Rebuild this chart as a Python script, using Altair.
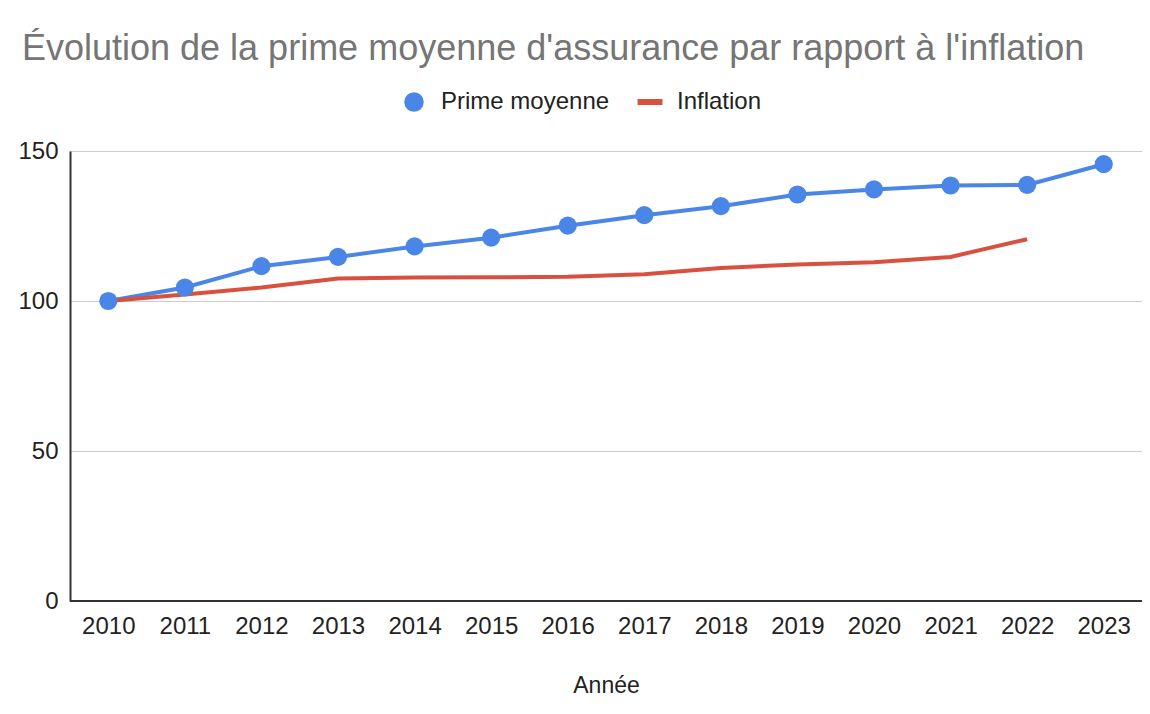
import altair as alt
import pandas as pd

years = ["2010", "2011", "2012", "2013", "2014", "2015", "2016",
         "2017", "2018", "2019", "2020", "2021", "2022", "2023"]
prime = [100.0, 104.5, 111.6, 114.7, 118.2, 121.1, 125.1,
         128.6, 131.6, 135.5, 137.2, 138.5, 138.7, 145.6]
inflation = [100.0, 102.2, 104.5, 107.5, 107.8, 107.9, 108.1,
             108.9, 111.0, 112.2, 112.9, 114.7, 120.6, None]
series = ["Prime moyenne", "Inflation"]
colors = ["#4a86e8", "#d9503f"]

rows = []
for i, y in enumerate(years):
    rows.append({"Année": y, "Série": series[0], "Valeur": prime[i]})
    rows.append({"Année": y, "Série": series[1], "Valeur": inflation[i]})
df = pd.DataFrame(rows)

FONT = "Liberation Sans"
W, H = 1072, 450

x_enc = alt.X("Année:O", sort=years,
              scale=alt.Scale(type="point", padding=0.5),
              axis=alt.Axis(title="Année", labelAngle=0, labelFontSize=24,
                            labelColor="#222222", labelPadding=13, ticks=False,
                            domain=False, grid=False, titleFontSize=23,
                            titleFontWeight="normal", titleColor="#222222",
                            titlePadding=36))
y_enc = alt.Y("Valeur:Q",
              scale=alt.Scale(domain=[0, 150], nice=False, zero=True),
              axis=alt.Axis(title=None, values=[0, 50, 100, 150], labelFontSize=24,
                            labelColor="#222222", labelPadding=12, ticks=False,
                            domain=True, domainColor="#333333", domainWidth=2,
                            gridColor="#cccccc", gridWidth=1.2))

legend = alt.Legend(title=None, orient="none", legendX=332, legendY=-61,
                    direction="horizontal", columns=2, labelFontSize=24,
                    labelColor="#222222", symbolSize=380, labelOffset=15,
                    labelLimit=0, columnPadding=27, padding=0,
                    symbolStrokeWidth=0)

color_enc = alt.Color("Série:N", sort=series,
                      scale=alt.Scale(domain=series, range=colors),
                      legend=legend)
shape_enc = alt.Shape("Série:N", sort=series,
                      scale=alt.Scale(domain=series,
                                      range=["circle", "M-1.28,-0.31L1.28,-0.31L1.28,0.31L-1.28,0.31Z"]),
                      legend=legend)

lines = alt.Chart(df).mark_line(strokeWidth=4).encode(
    x=x_enc, y=y_enc, color=color_enc, detail="Série:N"
)
points = alt.Chart(df).transform_filter(
    alt.datum["Série"] == series[0]
).mark_point(filled=True, size=330, opacity=1).encode(
    x=x_enc, y=y_enc, color=color_enc, shape=shape_enc
)

# x-axis baseline at 0
base = alt.Chart(df).mark_rule(color="#333333", strokeWidth=2).encode(
    y=alt.datum(0), x=alt.value(0), x2=alt.value(W)
)

chart = alt.layer(lines, points, base).properties(
    width=W, height=H,
    title=alt.TitleParams(
        "Évolution de la prime moyenne d'assurance par rapport à l'inflation",
        anchor="start", fontSize=36, font=FONT, fontWeight="normal",
        color="#757575", offset=22, dx=4
    ),
    autosize=alt.AutoSizeParams(type="none"),
    padding={"left": 62, "top": 143, "right": 0, "bottom": 100},
).configure(font=FONT).configure_view(stroke=None)

chart.save("out.html", embed_options={"renderer": "svg", "actions": False})
